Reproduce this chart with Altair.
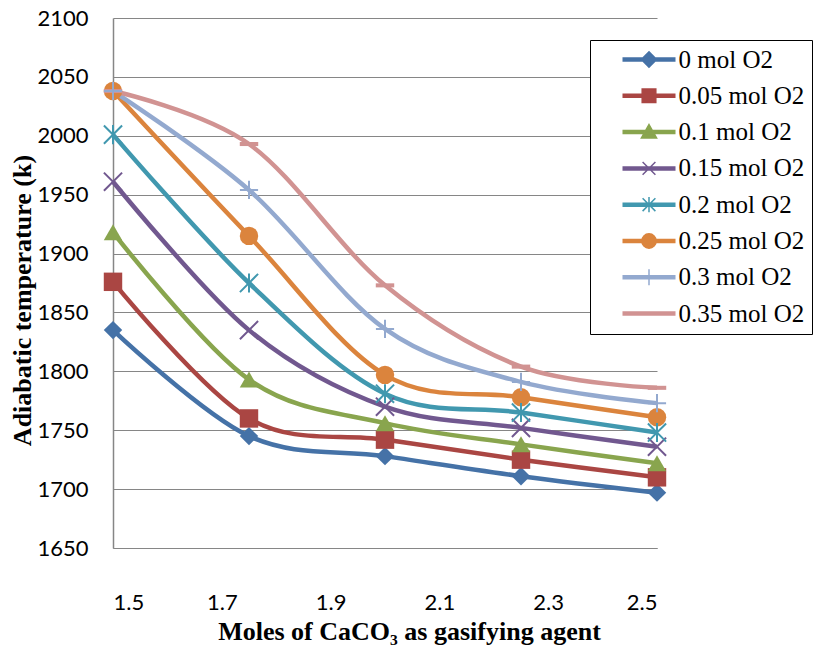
import altair as alt
import pandas as pd

# Moles of CaCO3 fed as gasifying agent
moles = [1.5, 1.75, 2.0, 2.25, 2.5]

# Oxygen levels, one curve each
series = [
    "0 mol O2", "0.05 mol O2", "0.1 mol O2", "0.15 mol O2",
    "0.2 mol O2", "0.25 mol O2", "0.3 mol O2", "0.35 mol O2",
]

# Adiabatic temperature (K) per oxygen level
temp_o2_000 = [1835, 1745, 1728, 1711, 1697]
temp_o2_005 = [1876, 1760, 1742, 1725, 1710]
temp_o2_010 = [1918, 1793, 1756, 1738, 1722]
temp_o2_015 = [1961, 1835, 1770, 1752, 1736]
temp_o2_020 = [2001, 1875, 1781, 1765, 1748]
temp_o2_025 = [2038, 1915, 1797, 1778, 1761]
temp_o2_030 = [2038, 1954, 1836, 1791, 1773]
temp_o2_035 = [2038, 1993, 1873, 1804, 1786]

x_ticks = [1.5, 1.7, 1.9, 2.1, 2.3, 2.5]
y_ticks = [1650, 1700, 1750, 1800, 1850, 1900, 1950, 2000, 2050, 2100]

all_temps = [temp_o2_000, temp_o2_005, temp_o2_010, temp_o2_015,
             temp_o2_020, temp_o2_025, temp_o2_030, temp_o2_035]

rows = []
for name, temps in zip(series, all_temps):
    for m, t in zip(moles, temps):
        rows.append({"moles": m, "temp": t, "series": name})
df = pd.DataFrame(rows)

colors = ["#4572A7", "#AA4643", "#89A54E", "#71588F",
          "#4198AF", "#DB843D", "#93A9CF", "#D19392"]

# marker paths
X_PATH = "M-1,-1L1,1M-1,1L1,-1"
STAR_PATH = "M-1,-1L1,1M-1,1L1,-1M0,-1.05L0,1.05"
PLUS_PATH = "M-1,0L1,0M0,-1L0,1"
DASH_PATH = "M-1,-0.22L1,-0.22L1,0.22L-1,0.22Z"

filled_series = [series[0], series[1], series[2], series[5], series[7]]
filled_shapes = ["diamond", "square", "triangle-up", "circle", DASH_PATH]
open_series = [series[3], series[4], series[6]]
open_shapes = [X_PATH, STAR_PATH, PLUS_PATH]

# legend glyphs: a short line segment with the marker on top of it
LINE = "M-3.22,-0.19L3.22,-0.19L3.22,0.19L-3.22,0.19Z"
legend_shapes = [
    LINE + "M0,-0.95L0.95,0L0,0.95L-0.95,0Z",
    LINE + "M-0.85,-0.85L0.85,-0.85L0.85,0.85L-0.85,0.85Z",
    LINE + "M0,-0.95L0.95,0.75L-0.95,0.75Z",
    LINE + "M-0.8,-0.8L0.8,0.8M-0.8,0.8L0.8,-0.8",
    LINE + "M-0.8,-0.8L0.8,0.8M-0.8,0.8L0.8,-0.8M0,-0.95L0,0.95",
    LINE + "M0.9,0A0.9,0.9,0,1,1,-0.9,0A0.9,0.9,0,1,1,0.9,0Z",
    LINE + "M0,-1L0,1",
    LINE,
]

SERIF = "Liberation Serif"
SANS = "Lato"
GRID = "#868686"

x_enc = alt.X(
    "moles:Q",
    scale=alt.Scale(domain=[1.5, 2.5], nice=False, zero=False),
    axis=alt.Axis(
        values=x_ticks, format=".1f", grid=False, ticks=False, tickSize=0,
        labelPadding=44, labelFont=SANS, labelFontSize=22, labelColor="black",
        domainColor=GRID, domainWidth=1.2,
        title="Moles of CaCO\u2083 as gasifying agent",
        titleFont=SERIF, titleFontSize=26, titleFontWeight="bold",
        titleColor="black", titleX=296, titleY=70, titleBaseline="top",
    ),
)
y_enc = alt.Y(
    "temp:Q",
    scale=alt.Scale(domain=[1650, 2100], nice=False, zero=False),
    axis=alt.Axis(
        values=y_ticks, format="d", grid=True, gridColor=GRID, gridWidth=1,
        ticks=False, tickSize=0, labelPadding=25, labelFont=SANS,
        labelFontSize=22, labelColor="black", domainColor=GRID, domainWidth=1.5,
        title="Adiabatic temperature (k)", titleFont=SERIF, titleFontSize=26,
        titleFontWeight="bold", titleColor="black", titleAngle=270,
        titleX=-91, titleY=282, titleAlign="center", titleBaseline="middle",
    ),
)
color_enc = alt.Color("series:N", scale=alt.Scale(domain=series, range=colors), legend=None)

base = alt.Chart(df)

lines = base.mark_line(interpolate="cardinal", strokeWidth=4.5).encode(
    x=x_enc, y=y_enc, color=color_enc
)

filled_pts = base.transform_filter(
    alt.FieldOneOfPredicate(field="series", oneOf=filled_series)
).mark_point(filled=True, size=340, opacity=1).encode(
    x=x_enc, y=y_enc, color=color_enc,
    shape=alt.Shape("series:N", scale=alt.Scale(domain=filled_series, range=filled_shapes), legend=None),
)

open_pts = base.transform_filter(
    alt.FieldOneOfPredicate(field="series", oneOf=open_series)
).mark_point(filled=False, size=330, opacity=1, strokeWidth=2).encode(
    x=x_enc, y=y_enc, color=color_enc,
    shape=alt.Shape("series:N", scale=alt.Scale(domain=open_series, range=open_shapes), legend=None),
)

legend_opts = dict(
    orient="none", legendX=477, legendY=22, title=None, padding=7,
    strokeColor="black", fillColor="white", labelFont=SERIF, labelFontSize=25,
    labelColor="black", labelLimit=400, symbolSize=256, symbolStrokeWidth=1.5,
    symbolOffset=39.5, labelOffset=17, rowPadding=10.3,
    labelExpr="datum.label + '\u2003\u2003\u2002'",
)

# legend-only layer: no rows drawn, the scales carry the entries
legend_layer = base.transform_filter("false").mark_point(
    filled=True, opacity=1, strokeWidth=1.5, size=256
).encode(
    x=x_enc, y=y_enc,
    fill=alt.Fill("series:N", scale=alt.Scale(domain=series, range=colors), legend=alt.Legend(**legend_opts)),
    stroke=alt.Stroke("series:N", scale=alt.Scale(domain=series, range=colors), legend=alt.Legend(**legend_opts)),
    shape=alt.Shape("series:N", scale=alt.Scale(domain=series, range=legend_shapes), legend=alt.Legend(**legend_opts)),
)

chart = alt.layer(lines, filled_pts, open_pts, legend_layer).resolve_scale(
    shape="independent", fill="independent", stroke="independent"
).properties(
    width=544, height=530,
    padding={"left": 113, "top": 18, "right": 176, "bottom": 99},
    autosize=alt.AutoSizeParams(type="none"),
    background="white",
).configure_view(strokeWidth=0)

chart.save("out.html", embed_options={"renderer": "svg", "actions": False})
